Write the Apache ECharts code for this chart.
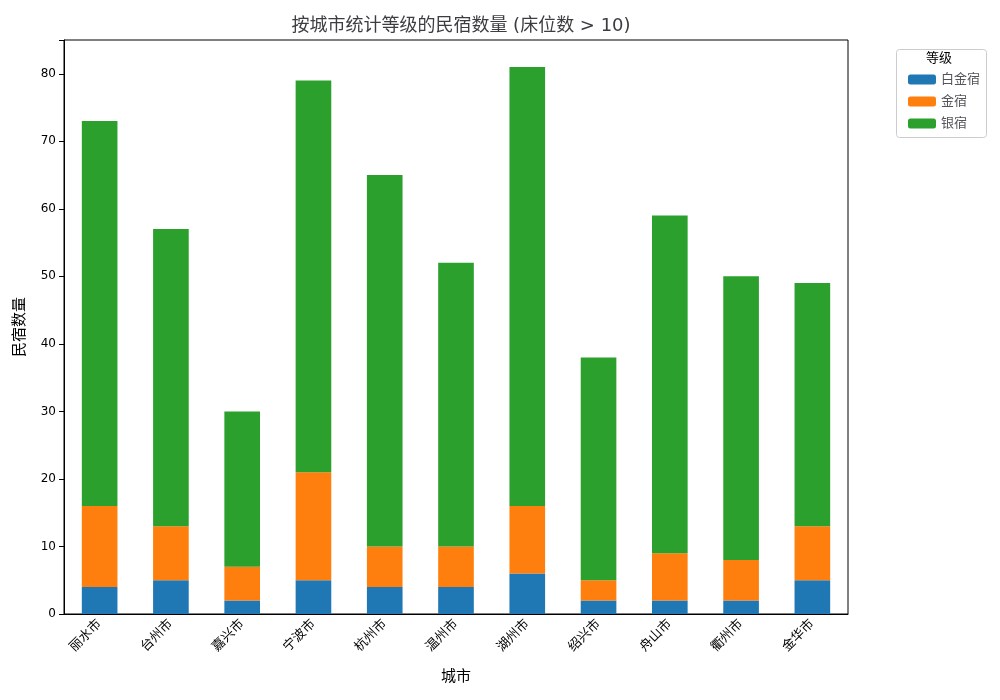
<!DOCTYPE html>
<html>
<head>
<meta charset="utf-8">
<script src="https://cdn.jsdelivr.net/npm/echarts@6/dist/echarts.min.js"></script>
<style>body{margin:0}</style>
</head>
<body>
<div id="main" style="width:1000px;height:700px"></div>
<script>
var cities = ['丽水市', '台州市', '嘉兴市', '宁波市', '杭州市', '温州市', '湖州市', '绍兴市', '舟山市', '衢州市', '金华市'];
var platinum = [4, 5, 2, 5, 4, 4, 6, 2, 2, 2, 5];
var gold = [12, 8, 5, 16, 6, 6, 10, 3, 7, 6, 8];
var silver = [57, 44, 23, 58, 55, 42, 65, 33, 50, 42, 36];

var font = 'DejaVu Sans, Noto Sans CJK SC';
var myChart = echarts.init(document.getElementById('main'));
var option = {
    animation: false,
    textStyle: { fontFamily: font, color: '#000' },
    title: {
        text: '按城市统计等级的民宿数量 (床位数 > 10)',
        left: 456, top: 12, textAlign: 'center',
        textStyle: { fontSize: 18, fontWeight: 'normal', fontFamily: font }
    },
    grid: { left: 64, right: 152, top: 40, bottom: 86, show: true, borderColor: '#000', borderWidth: 1 },
    legend: {
        orient: 'vertical', right: 15, top: 68, itemWidth: 28, itemHeight: 10, itemGap: 9,
        textStyle: { fontSize: 13, fontFamily: font }
    },
    graphic: [
        { type: 'rect', left: 894, top: 47, shape: { width: 90, height: 88, r: 3 }, style: { fill: 'none', stroke: '#ccc' } },
        { type: 'text', left: 926, top: 52, style: { text: '等级', fontSize: 13, fontFamily: font, fill: '#000' } }
    ],
    xAxis: {
        type: 'category', data: cities, name: '城市', nameLocation: 'middle', nameGap: 56,
        nameTextStyle: { fontSize: 15 },
        axisLine: { lineStyle: { color: '#000' } },
        axisTick: { alignWithLabel: true, lineStyle: { color: '#000' } },
        axisLabel: { rotate: 45, fontSize: 13, color: '#000', margin: 8 }
    },
    yAxis: {
        type: 'value', min: 0, max: 85, interval: 10, name: '民宿数量', nameLocation: 'middle', nameGap: 36,
        nameTextStyle: { fontSize: 15 },
        splitLine: { show: false },
        axisLine: { show: true, lineStyle: { color: '#000' } },
        axisTick: { show: true, lineStyle: { color: '#000' } },
        axisLabel: { fontSize: 12, color: '#000', formatter: function (v) { return v % 10 === 0 ? v : ''; } }
    },
    series: [
        { name: '白金宿', type: 'bar', stack: 'a', data: platinum, barWidth: '50%', itemStyle: { color: '#1f77b4' } },
        { name: '金宿', type: 'bar', stack: 'a', data: gold, itemStyle: { color: '#ff7f0e' } },
        { name: '银宿', type: 'bar', stack: 'a', data: silver, itemStyle: { color: '#2ca02c' } }
    ]
};
option && myChart.setOption(option);
</script>
</body>
</html>
